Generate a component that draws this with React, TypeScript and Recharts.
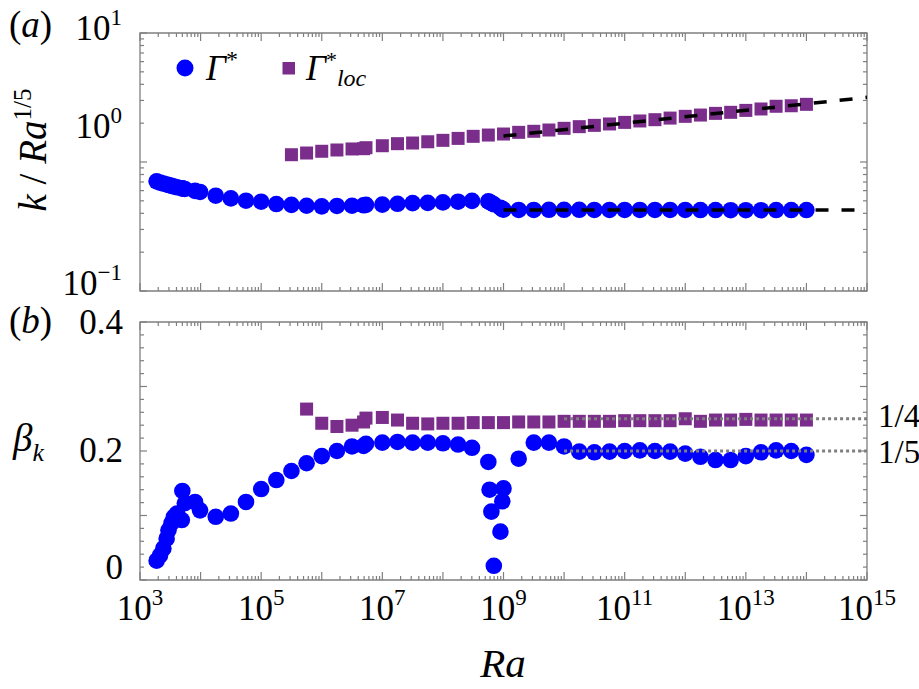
import React from 'react';
import { ScatterChart, Scatter, XAxis, YAxis, ReferenceArea } from 'recharts';

// ---------- data ----------
const raGamma = [
  1.88e3, 2.14e3, 2.43e3, 2.75e3, 2.95e3, 3.31e3, 3.63e3, 4.07e3, 4.9e3, 5.0e3, 5.5e3, 8.1e3, 9.8e3,
  1.78e4, 3.16e4, 5.62e4, 1e5, 1.78e5, 3.16e5, 5.62e5, 1e6, 1.78e6, 3.16e6, 4.9e6, 5.37e6,
  1e7, 1.78e7, 3.16e7, 5.62e7, 1e8, 1.78e8, 3.02e8, 5.62e8, 5.89e8, 6.31e8, 6.92e8, 8.91e8, 9.55e8,
  1e9, 1.78e9, 3.16e9, 5.62e9, 1e10, 1.78e10, 3.16e10, 5.62e10, 1e11, 1.78e11, 3.16e11, 5.62e11,
  1e12, 1.78e12, 3.16e12, 5.62e12, 1e13, 1.78e13, 3.16e13, 5.62e13, 1e14,
];
const kGamma = [
  0.708, 0.692, 0.681, 0.67, 0.664, 0.653, 0.646, 0.637, 0.625, 0.624, 0.618, 0.597, 0.586,
  0.548, 0.522, 0.501, 0.492, 0.472, 0.465, 0.458, 0.453, 0.456, 0.458, 0.462, 0.465,
  0.467, 0.474, 0.48, 0.482, 0.486, 0.492, 0.5, 0.495, 0.49, 0.481, 0.47, 0.442, 0.432,
  0.427, 0.425, 0.425, 0.426, 0.426, 0.426, 0.425, 0.425, 0.425, 0.425, 0.425, 0.425,
  0.425, 0.424, 0.424, 0.423, 0.423, 0.423, 0.424, 0.424, 0.424,
];
const betaGamma = [
  0.03, 0.038, 0.049, 0.064, 0.077, 0.088, 0.098, 0.103, 0.093, 0.138, 0.119, 0.121, 0.108,
  0.098, 0.103, 0.121, 0.141, 0.155, 0.169, 0.181, 0.192, 0.2, 0.207, 0.208, 0.211,
  0.213, 0.214, 0.213, 0.213, 0.212, 0.21, 0.205, 0.183, 0.14, 0.106, 0.022, 0.075, 0.122,
  0.142, 0.188, 0.213, 0.213, 0.207, 0.199, 0.198, 0.199, 0.2, 0.201, 0.2, 0.199,
  0.196, 0.191, 0.186, 0.186, 0.192, 0.198, 0.201, 0.2, 0.194,
];

const raLoc = [
  3.16e5, 5.62e5, 1e6, 1.78e6, 3.16e6, 4.9e6, 5.37e6, 1e7, 1.78e7, 3.16e7, 5.62e7,
  1e8, 1.78e8, 3.16e8, 5.62e8, 1e9, 1.78e9, 3.16e9, 5.62e9, 1e10, 1.78e10, 3.16e10, 5.62e10,
  1e11, 1.78e11, 3.16e11, 5.62e11, 1e12, 1.78e12, 3.16e12, 5.62e12, 1e13, 1.78e13, 3.16e13, 5.62e13, 1e14,
];
const kLoc = [
  1.139, 1.174, 1.211, 1.239, 1.262, 1.268, 1.291, 1.337, 1.387, 1.403, 1.435,
  1.472, 1.524, 1.581, 1.618, 1.648, 1.698, 1.73, 1.77, 1.824, 1.879, 1.923, 1.972,
  2.028, 2.08, 2.128, 2.19, 2.259, 2.312, 2.382, 2.427, 2.512, 2.576, 2.704, 2.729, 2.799,
];
const betaLoc = [
  null, 0.265, 0.243, 0.238, 0.24, 0.245, 0.251, 0.252, 0.248, 0.243, 0.242,
  0.243, 0.243, 0.244, 0.244, 0.244, 0.245, 0.245, 0.245, 0.246, 0.246, 0.246, 0.246,
  0.247, 0.247, 0.247, 0.247, 0.25, 0.246, 0.248, 0.248, 0.249, 0.248, 0.248, 0.248, 0.248,
];

const fitRa = [1e9, 1e15];
const fitGamma = [0.425, 0.425];
const fitLoc = [1.59, 3.17];
const refRa = [1e10, 1e15];
const refQuarter = [0.25, 0.25];
const refFifth = [0.2, 0.2];

const xDecades = [3, 4, 5, 6, 7, 8, 9, 10, 11, 12, 13, 14, 15];
const yDecadesA = [-1, 0, 1];
const yTicksBLabels = ['0', '0.2', '0.4'];

// ---------- derived tables ----------
const zip = (xs: number[], ys: (number | null)[]) =>
  xs.map((x, i) => ({ x, y: ys[i] })).filter((d) => d.y !== null) as { x: number; y: number }[];

const gammaA = zip(raGamma, kGamma);
const gammaB = zip(raGamma, betaGamma);
const locA = zip(raLoc, kLoc);
const locB = zip(raLoc, betaLoc);
const fitGammaData = zip(fitRa, fitGamma);
const fitLocData = zip(fitRa, fitLoc);
const refQData = zip(refRa, refQuarter);
const refFData = zip(refRa, refFifth);

const xTicks: number[] = [];
xDecades.forEach((e, i) => {
  if (i === xDecades.length - 1) xTicks.push(Math.pow(10, e));
  else for (let m = 1; m <= 9; m++) xTicks.push(m * Math.pow(10, e));
});
const yTicksA: number[] = [];
yDecadesA.forEach((e, i) => {
  if (i === yDecadesA.length - 1) yTicksA.push(Math.pow(10, e));
  else for (let m = 1; m <= 9; m++) yTicksA.push(+(m * Math.pow(10, e)).toPrecision(6));
});
const yTicksB = Array.from({ length: 21 }, (_, i) => +(i * 0.02).toFixed(2));

// ---------- style ----------
const BLUE = '#0000ff';
const PURPLE = '#7b2d8c';
const GRAY = '#7f7f7f';
const FONT = "'Liberation Serif', 'DejaVu Serif', serif";
const W = 919;
const PL = 140;
const PR = 867;
const PLOT_W = PR - PL;
const A_TOP = 33;
const A_BOT = 291;
const A_H = 312;
const B_TOP = 322;
const B_BOT = 580;
const TICK_FS = 35;
const SUP_FS = 23;

const isDecade = (v: number) => {
  const e = Math.log10(v);
  return Math.abs(e - Math.round(e)) < 1e-6;
};

const makeXTick = (plotH: number, labels: boolean) => (props: any) => {
  const { x, y, payload } = props;
  const v = payload.value;
  const major = isDecade(v);
  const len = major ? 8 : 4;
  const e = Math.round(Math.log10(v));
  return (
    <g>
      <line x1={x} y1={y} x2={x} y2={y - len} stroke={GRAY} strokeWidth={1.2} />
      <line x1={x} y1={y - plotH} x2={x} y2={y - plotH + len} stroke={GRAY} strokeWidth={1.2} />
      {labels && major && e % 2 === 1 && (
        <text x={x} y={y + 40} textAnchor="middle" fontSize={TICK_FS} fill="#000" fontFamily={FONT}>
          10
          <tspan dy={-15} fontSize={SUP_FS}>
            {e}
          </tspan>
        </text>
      )}
    </g>
  );
};

const yLabelShiftA: Record<string, number> = { '-1': 4, '0': -24, '1': 7 };

const YTickA = (props: any) => {
  const { x, y, payload } = props;
  const v = payload.value;
  const major = isDecade(v);
  const len = major ? 7 : 4;
  const e = Math.round(Math.log10(v));
  return (
    <g>
      <line x1={x} y1={y} x2={x + len} y2={y} stroke={GRAY} strokeWidth={1.2} />
      <line x1={x + PLOT_W} y1={y} x2={x + PLOT_W - len} y2={y} stroke={GRAY} strokeWidth={1.2} />
      {major && (
        <text x={x - 18} y={y + yLabelShiftA[String(e)]} textAnchor="end" fontSize={TICK_FS} fill="#000" fontFamily={FONT}>
          10
          <tspan dy={-15} fontSize={SUP_FS}>
            {e < 0 ? '\u2212' + Math.abs(e) : String(e)}
          </tspan>
        </text>
      )}
    </g>
  );
};

const yLabelShiftB: Record<string, number> = { '0': -1, '0.2': 11, '0.4': 12 };

const YTickB = (props: any) => {
  const { x, y, payload } = props;
  const v = payload.value;
  const major = Math.abs(v * 10 - Math.round(v * 10)) < 1e-6;
  const len = major ? 7 : 4;
  const lbl = yTicksBLabels.find((s) => Math.abs(parseFloat(s) - v) < 1e-9);
  return (
    <g>
      <line x1={x} y1={y} x2={x + len} y2={y} stroke={GRAY} strokeWidth={1.2} />
      <line x1={x + PLOT_W} y1={y} x2={x + PLOT_W - len} y2={y} stroke={GRAY} strokeWidth={1.2} />
      {lbl !== undefined && (
        <text x={x - 17} y={y + yLabelShiftB[lbl]} textAnchor="end" fontSize={TICK_FS} fill="#000" fontFamily={FONT}>
          {lbl}
        </text>
      )}
    </g>
  );
};

const Circle = (p: any) => <circle cx={p.cx} cy={p.cy} r={8.3} fill={BLUE} />;
const Square = (p: any) => <rect x={p.cx - 6.5} y={p.cy - 6.5} width={13} height={13} fill={PURPLE} />;
const NoMark = () => <g />;

export default function App() {
  return (
    <div style={{ position: 'absolute', left: 0, top: 0, width: W, height: 689, background: '#fff', fontFamily: FONT }}>
      {/* Panel (a) */}
      <div style={{ position: 'absolute', left: 0, top: 0 }}>
        <ScatterChart width={W} height={A_H} margin={{ top: A_TOP, right: W - PR, bottom: A_H - A_BOT - 1, left: PL - 1 }}>
          <XAxis
            type="number"
            dataKey="x"
            scale="log"
            domain={[1e3, 1e15]}
            ticks={xTicks}
            interval={0}
            height={1}
            tickSize={0}
            tickMargin={0}
            axisLine={false}
            tickLine={false}
            tick={makeXTick(A_BOT - A_TOP, false)}
            allowDataOverflow
          />
          <YAxis
            type="number"
            dataKey="y"
            scale="log"
            domain={[0.1, 10]}
            ticks={yTicksA}
            interval={0}
            width={1}
            tickSize={0}
            tickMargin={0}
            axisLine={false}
            tickLine={false}
            tick={YTickA}
            allowDataOverflow
          />
          <ReferenceArea x1={1e3} x2={1e15} y1={0.1} y2={10} fill="none" stroke={GRAY} strokeWidth={1.3} ifOverflow="visible" />
          <Scatter name="Γ*" data={gammaA} shape={Circle} isAnimationActive={false} />
          <Scatter name="Γ*loc" data={locA} shape={Square} isAnimationActive={false} />
          <Scatter
            data={fitGammaData}
            shape={NoMark}
            line={{ stroke: '#000', strokeWidth: 3.5, strokeDasharray: '13 13' }}
            isAnimationActive={false}
          />
          <Scatter
            data={fitLocData}
            shape={NoMark}
            line={{ stroke: '#000', strokeWidth: 3.5, strokeDasharray: '13 13' }}
            isAnimationActive={false}
          />
        </ScatterChart>
      </div>

      {/* Panel (b) */}
      <div style={{ position: 'absolute', left: 0, top: 300 }}>
        <ScatterChart width={W} height={389} margin={{ top: B_TOP - 300, right: W - PR, bottom: 689 - B_BOT - 1, left: PL - 1 }}>
          <XAxis
            type="number"
            dataKey="x"
            scale="log"
            domain={[1e3, 1e15]}
            ticks={xTicks}
            interval={0}
            height={1}
            tickSize={0}
            tickMargin={0}
            axisLine={false}
            tickLine={false}
            tick={makeXTick(B_BOT - B_TOP, true)}
            allowDataOverflow
          />
          <YAxis
            type="number"
            dataKey="y"
            domain={[0, 0.4]}
            ticks={yTicksB}
            interval={0}
            width={1}
            tickSize={0}
            tickMargin={0}
            axisLine={false}
            tickLine={false}
            tick={YTickB}
            allowDataOverflow
          />
          <ReferenceArea x1={1e3} x2={1e15} y1={0} y2={0.4} fill="none" stroke={GRAY} strokeWidth={1.3} ifOverflow="visible" />
          <Scatter data={gammaB} shape={Circle} isAnimationActive={false} />
          <Scatter data={locB} shape={Square} isAnimationActive={false} />
          <Scatter
            data={refQData}
            shape={NoMark}
            line={{ stroke: GRAY, strokeWidth: 3, strokeDasharray: '3 3' }}
            isAnimationActive={false}
          />
          <Scatter
            data={refFData}
            shape={NoMark}
            line={{ stroke: GRAY, strokeWidth: 3, strokeDasharray: '3 3' }}
            isAnimationActive={false}
          />
        </ScatterChart>
      </div>

      {/* Text overlay: panel letters, axis titles, legend, slope labels */}
      <svg width={W} height={689} style={{ position: 'absolute', left: 0, top: 0, pointerEvents: 'none' }} fontFamily={FONT}>
        <text x={9} y={37} fontSize={37} fill="#000">
          (<tspan fontStyle="italic">a</tspan>)
        </text>
        <text x={9} y={333} fontSize={37} fill="#000">
          (<tspan fontStyle="italic">b</tspan>)
        </text>
        <text transform="translate(46,150) rotate(-90)" textAnchor="middle" fontSize={39} fill="#000">
          <tspan fontStyle="italic">k</tspan> / <tspan fontStyle="italic">Ra</tspan>
          <tspan dy={-15} fontSize={25}>1/5</tspan>
        </text>
        <text x={13} y={451} fontSize={39} fill="#000" fontStyle="italic">
          β<tspan dy={10} fontSize={26}>k</tspan>
        </text>
        <text x={503} y={677} textAnchor="middle" fontSize={41} fill="#000" fontStyle="italic">
          Ra
        </text>
        {/* legend */}
        <circle cx={185} cy={68} r={8.5} fill={BLUE} />
        <text x={206} y={80} fontSize={35} fill="#000">
          <tspan fontStyle="italic">Γ</tspan>
          <tspan dy={-13} fontSize={24}>*</tspan>
        </text>
        <rect x={282.5} y={62} width={12.5} height={12.5} fill={PURPLE} />
        <text x={306} y={80} fontSize={35} fill="#000">
          <tspan fontStyle="italic">Γ</tspan>
          <tspan dy={-13} fontSize={22}>*</tspan>
          <tspan dy={19} fontSize={24} fontStyle="italic">loc</tspan>
        </text>
        <text x={878} y={427} fontSize={33} fill="#000">1/4</text>
        <text x={878} y={463} fontSize={33} fill="#000">1/5</text>
      </svg>
    </div>
  );
}
